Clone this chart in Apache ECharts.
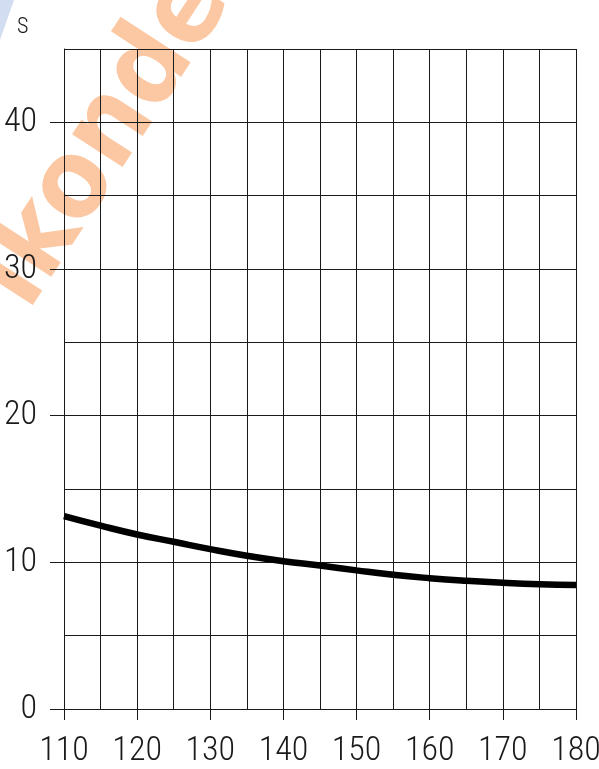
<!DOCTYPE html>
<html>
<head>
<meta charset="utf-8">
<script src="https://cdn.jsdelivr.net/npm/echarts@6/dist/echarts.min.js"></script>
<style>
html,body{margin:0;padding:0;background:#fff;}
#chart{width:599px;height:769px;}
</style>
</head>
<body>
<div id="chart"></div>
<script>
// Data
const xValues = [110, 115, 120, 125, 130, 135, 140, 145, 150, 155, 160, 165, 170, 175, 180];
const sValues = [13.15, 12.5, 11.9, 11.4, 10.9, 10.45, 10.08, 9.78, 9.45, 9.15, 8.92, 8.74, 8.6, 8.5, 8.45];
const xTickLabels = [110, 120, 130, 140, 150, 160, 170, 180];
const yTickLabels = [0, 10, 20, 30, 40];
const yAxisTitle = 'S';
const watermarkText = 'ikonde';

const LINE = '#1a1a1a';
const labelFont = {fontStyle: 'condensed', fontWeight: 300, fontFamily: 'Roboto', color: '#1a1a1a'};

const chart = echarts.init(document.getElementById('chart'), null, {renderer: 'canvas'});
chart.setOption({
  backgroundColor: '#ffffff',
  animation: false,
  title: {
    text: yAxisTitle,
    left: 12, top: 11,
    textStyle: Object.assign({fontSize: 22}, labelFont)
  },
  graphic: [
    {
      type: 'polygon', z: -10,
      shape: {points: [[0, 0], [14, 0], [0, 40]]},
      style: {fill: '#d3ddf1'}
    },
    {
      type: 'text', z: -10,
      x: 106, y: 140,
      rotation: 57 * Math.PI / 180,
      style: {
        text: watermarkText,
        font: "bold 110px 'DejaVu Sans Condensed', sans-serif",
        fill: '#fcc8a3',
        align: 'center',
        verticalAlign: 'middle'
      }
    }
  ],
  grid: {left: 64, right: 23, top: 49, bottom: 60, containLabel: false, outerBoundsMode: 'none'},
  xAxis: [{
    type: 'value',
    min: 110, max: 180, interval: 5,
    axisLine: {show: true, lineStyle: {color: LINE, width: 1}},
    axisTick: {show: true, length: 11, customValues: xTickLabels, lineStyle: {color: LINE, width: 1}},
    axisLabel: Object.assign({customValues: xTickLabels, margin: 25, fontSize: 34}, labelFont),
    splitLine: {show: false}
  }, {
    type: 'value', position: 'top',
    min: 110, max: 180, interval: 5,
    axisLine: {show: false}, axisTick: {show: false}, axisLabel: {show: false},
    splitLine: {show: true, lineStyle: {color: LINE, width: 1}}
  }],
  yAxis: [{
    type: 'value',
    min: 0, max: 45, interval: 5,
    axisLine: {show: true, lineStyle: {color: LINE, width: 1}},
    axisTick: {show: true, length: 14, customValues: yTickLabels, lineStyle: {color: LINE, width: 1}},
    axisLabel: Object.assign({customValues: yTickLabels, margin: 27, fontSize: 34}, labelFont),
    splitLine: {show: false}
  }, {
    type: 'value', position: 'right',
    min: 0, max: 45, interval: 5,
    axisLine: {show: false}, axisTick: {show: false}, axisLabel: {show: false},
    splitLine: {show: true, lineStyle: {color: LINE, width: 1}}
  }],
  series: [{
    type: 'line',
    xAxisIndex: 0, yAxisIndex: 0,
    data: xValues.map((x, i) => [x, sValues[i]]),
    smooth: true,
    showSymbol: false,
    lineStyle: {color: '#000', width: 6.5},
    z: 5
  }]
});
</script>
</body>
</html>
